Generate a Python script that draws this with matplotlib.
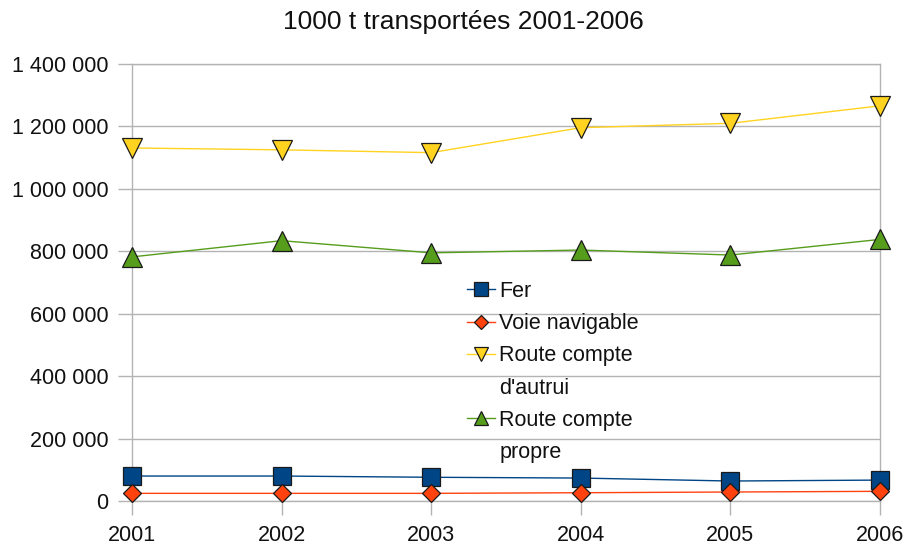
import matplotlib
matplotlib.use("Agg")
import matplotlib.pyplot as plt
from matplotlib.lines import Line2D
from matplotlib.ticker import FuncFormatter, FixedLocator

plt.rcParams['font.family'] = ['Liberation Sans', 'DejaVu Sans']

years = [2001, 2002, 2003, 2004, 2005, 2006]
fer = [80000, 80000, 76000, 73500, 64000, 67000]
voie_navigable = [24500, 24500, 24500, 26500, 28800, 31000]
route_autrui = [1131000, 1125000, 1116000, 1196000, 1210000, 1266000]
route_propre = [782000, 834000, 795000, 804000, 788000, 838000]
series_labels = ["Fer", "Voie navigable", "Route compte\nd'autrui", "Route compte\npropre"]
y_ticks = [0, 200000, 400000, 600000, 800000, 1000000, 1200000, 1400000]
title = "1000 t transportées 2001-2006"

fig = plt.figure(figsize=(9.07, 5.49), dpi=100)
ax = fig.add_axes([132/907, 1-501/549, (880-132)/907, (501-64)/549])

grid_c = '#b3b3b3'
styles = [
    (fer, '#004586', 's', 13.5),
    (voie_navigable, '#ff420e', 'D', 9.5),
    (route_autrui, '#ffd320', 'v', 14),
    (route_propre, '#579d1c', '^', 14),
]
handles = []
for (vals, col, mk, ms) in styles:
    h, = ax.plot(years, vals, color=col, lw=1.0, marker=mk, markersize=ms,
                 markerfacecolor=col, markeredgecolor='#1a1a1a', markeredgewidth=0.9,
                 clip_on=False, zorder=3)
    handles.append(h)

ax.set_xlim(2001, 2006)
ax.set_ylim(0, 1400000)
ax.xaxis.set_major_locator(FixedLocator(years))
ax.yaxis.set_major_locator(FixedLocator(y_ticks))
ax.yaxis.set_major_formatter(FuncFormatter(lambda v, p: f"{int(v):,}".replace(",", " ")))

ax.grid(axis='y', color=grid_c, lw=1.0)
ax.set_axisbelow(True)
for s in ax.spines.values():
    s.set_color(grid_c)
    s.set_linewidth(1.0)
ax.tick_params(axis='both', colors=grid_c, length=10, width=1.0, labelcolor='#111111', labelsize=15.5)
ax.tick_params(axis='x', pad=7)
ax.tick_params(axis='y', pad=7)

fig.suptitle(title, x=(283+643)/2/907, y=1-10/549, va='top', fontsize=19, color='#111111')

# legend: one row per text line, handle on the first line of each label
leg_handles, leg_labels = [], []
blank = Line2D([], [], lw=0, marker=None, alpha=0)
for h, lab in zip(handles, series_labels):
    parts = lab.split("\n")
    leg_handles.append(h)
    leg_labels.append(parts[0])
    for p in parts[1:]:
        leg_handles.append(blank)
        leg_labels.append(p)

leg = ax.legend(leg_handles, leg_labels, frameon=False, loc='upper left',
                bbox_to_anchor=(467/907, 1-281/549), bbox_transform=fig.transFigure,
                fontsize=15.5, handlelength=1.3, handletextpad=0.2, labelspacing=0.52,
                markerscale=0.75, borderpad=0, borderaxespad=0)
for t in leg.get_texts():
    t.set_color('#111111')

fig.savefig("out.png", dpi=100)
